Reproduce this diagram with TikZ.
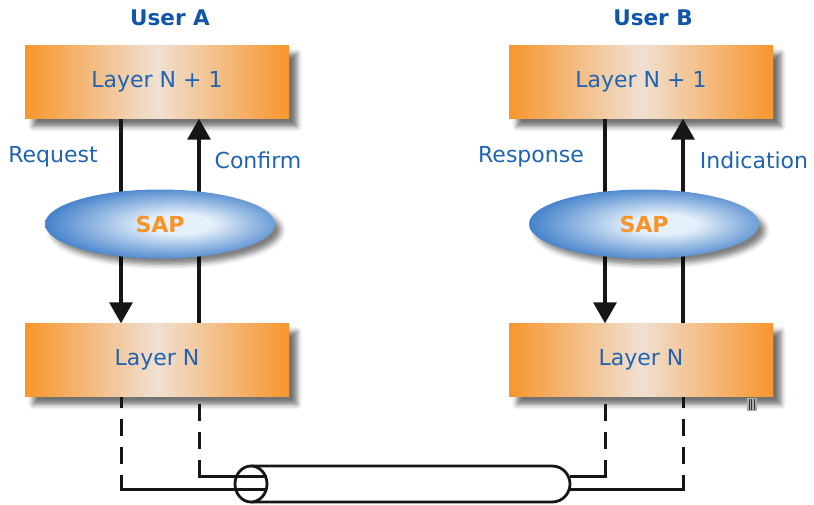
\documentclass[tikz,border=0pt]{standalone}
\usepackage{fontspec}
\setmainfont{DejaVu Sans}
\usetikzlibrary{shapes.geometric,shadows.blur,arrows.meta}

\definecolor{layerorange}{HTML}{F7962C}
\definecolor{layerlight}{HTML}{F0E0D2}
\definecolor{sapblue}{HTML}{1763BE}
\definecolor{saplight}{HTML}{E6F0FA}
\definecolor{labelblue}{HTML}{1F64B2}
\definecolor{titleblue}{HTML}{0F56A8}
\definecolor{saporange}{HTML}{F7942A}
\definecolor{inkdark}{HTML}{161616}

% light spot slightly right of centre, saturated blue towards the rim
\pgfdeclareradialshading{sapshade}{\pgfpoint{5bp}{0bp}}{%
  color(0bp)=(saplight); color(7bp)=(saplight);
  color(33bp)=(sapblue); color(50bp)=(sapblue!90!black)}

\tikzset{
  layerbox/.style={rectangle, minimum width=264pt, minimum height=73pt,
    inner sep=0pt, left color=layerorange, right color=layerorange,
    middle color=layerlight, text=labelblue,
    font=\fontsize{22}{26}\selectfont,
    blur shadow={shadow xshift=8pt, shadow yshift=-8pt,
      shadow blur radius=5pt, shadow opacity=55}},
  sapnode/.style={ellipse, minimum width=230pt, minimum height=69pt,
    inner sep=0pt, shading=sapshade, text=saporange,
    font=\bfseries\fontsize{22}{26}\selectfont,
    blur shadow={shadow xshift=6pt, shadow yshift=-6pt,
      shadow blur radius=5pt, shadow opacity=50}},
  primlabel/.style={text=labelblue, font=\fontsize{22}{26}\selectfont, inner sep=0pt},
  usertitle/.style={text=titleblue, font=\bfseries\fontsize{21.5}{25}\selectfont, inner sep=0pt},
  flow/.style={draw=inkdark, line width=3.4pt},
  downflow/.style={flow, -{Triangle[width=23pt,length=21pt]}},
  upflow/.style={flow, {Triangle[width=23pt,length=21pt]}-},
  wire/.style={draw=inkdark, line width=3pt},
  outerdash/.style={wire, dash pattern=on 17pt off 11pt, dash phase=6pt},
  innerdash/.style={wire, dash pattern=on 17pt off 11pt, dash phase=21pt},
  cable/.style={draw=inkdark, line width=2.8pt, fill=white}
}

\begin{document}
\begin{tikzpicture}[x=1pt, y=-1pt]
\useasboundingbox (0,0) rectangle (814,504);

% titles
\node[usertitle] (userA) at (170,18) {User A};
\node[usertitle] (userB) at (653,18) {User B};

% layer boxes
\node[layerbox] (topA) at (157,82) {Layer N + 1};
\node[layerbox] (topB) at (641,82) {Layer N + 1};
\node[layerbox] (botA) at (157,360) {Layer N};
\node[layerbox] (botB) at (641,360) {Layer N};

% small grey mark under the right lower box
\fill[gray!65] (747,398) rectangle (757,411);
\foreach \xx in {749,751.5,754}
  \draw[gray!40!black, line width=0.6pt] (\xx,399) -- (\xx,410);

% service primitives (drawn before the SAP ellipses so they pass behind)
\draw[downflow] ([xshift=-36pt]topA.south) -- ([xshift=-36pt]botA.north);
\draw[upflow]   ([xshift=42pt]topA.south) -- ([xshift=42pt]botA.north);
\draw[downflow] ([xshift=-36pt]topB.south) -- ([xshift=-36pt]botB.north);
\draw[upflow]   ([xshift=42pt]topB.south) -- ([xshift=42pt]botB.north);

% service access points
\node[sapnode] (sapA) at (160,224) {SAP};
\node[sapnode] (sapB) at (644,224) {SAP};

% primitive labels
\node[primlabel] (req)  at (53,157)  {Request};
\node[primlabel] (conf) at (258,160) {Confirm};
\node[primlabel] (resp) at (531,157) {Response};
\node[primlabel] (ind)  at (754,160) {Indication};

% physical medium: cable body with its open left end
\draw[cable] (251,466) -- (552,466)
  .. controls (563,466) and (570,475) .. (570,484)
  .. controls (570,493) and (563,502) .. (552,502) -- (251,502);
\fill[white] (251,484) ellipse [x radius=16, y radius=18];

\coordinate (cabAin)  at (267,476);
\coordinate (cabAout) at (267,489);
\coordinate (cabBin)  at (570,476);
\coordinate (cabBout) at (570,489);
\coordinate (bendAin)  at (199,460);
\coordinate (bendAout) at (121,475);
\coordinate (bendBin)  at (605,460);
\coordinate (bendBout) at (683,475);

% left side links into the cable
\draw[outerdash] ([xshift=-36pt]botA.south) -- (bendAout);
\draw[wire] (bendAout) -- (cabAout -| bendAout) -- (cabAout);
\draw[innerdash] ([xshift=42pt]botA.south) -- (bendAin);
\draw[wire] (bendAin) -- (cabAin -| bendAin) -- (cabAin);

% right side links out of the cable
\draw[innerdash] ([xshift=-36pt]botB.south) -- (bendBin);
\draw[wire] (bendBin) -- (cabBin -| bendBin) -- (cabBin);
\draw[outerdash] ([xshift=42pt]botB.south) -- (bendBout);
\draw[wire] (bendBout) -- (cabBout -| bendBout) -- (cabBout);

% rim of the open cable end
\draw[draw=inkdark, line width=2.8pt] (251,484) ellipse [x radius=16, y radius=18];
\end{tikzpicture}
\end{document}
